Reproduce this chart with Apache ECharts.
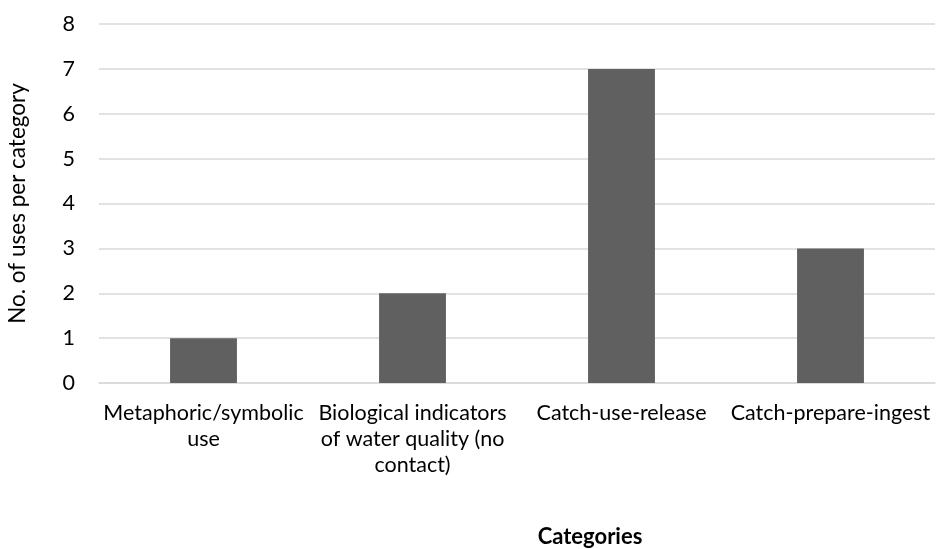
<!DOCTYPE html>
<html><head><meta charset="utf-8">
<script src="https://cdn.jsdelivr.net/npm/echarts@6/dist/echarts.min.js"></script>
<style>html,body{margin:0;padding:0;background:#fff}#c{width:937px;height:549px}</style>
</head><body><div id="c"></div>
<script>
const categories = ["Metaphoric/symbolic\nuse", "Biological indicators\nof water quality (no\ncontact)", "Catch-use-release", "Catch-prepare-ingest"];
const values = [1, 2, 7, 3];
const yTicks = [0, 1, 2, 3, 4, 5, 6, 7, 8];
const xTitle = "Categories";
const yTitle = "No. of uses per category";

const FONT = "Lato";
const chart = echarts.init(document.getElementById('c'), null, {renderer: 'canvas'});
chart.setOption({
  animation: false,
  textStyle: {fontFamily: FONT},
  title: {text: xTitle, left: 585, top: 521, textAlign: 'center',
    textStyle: {fontFamily: FONT, fontSize: 22, fontWeight: 'bold', color: '#000'}},
  grid: {left: 99, right: 2, top: 24, bottom: 166, containLabel: false, outerBoundsMode: 'none'},
  xAxis: {type: 'category', data: categories,
    axisLine: {show: true, lineStyle: {color: '#d9d9d9', width: 1.5}},
    axisTick: {show: false},
    axisLabel: {interval: 0, fontSize: 21.5, color: '#000', lineHeight: 26, margin: 17, fontFamily: FONT}
  },
  yAxis: {type: 'value', min: yTicks[0], max: yTicks[yTicks.length-1], interval: 1,
    name: yTitle, nameLocation: 'middle', nameGap: 70, nameRotate: 90,
    nameTextStyle: {fontSize: 22.5, color: '#000', fontFamily: FONT},
    axisLine: {show: false}, axisTick: {show: false},
    axisLabel: {fontSize: 21.5, color: '#000', margin: 24, fontFamily: FONT},
    splitLine: {lineStyle: {color: '#d9d9d9', width: 1.5}}
  },
  series: [{type: 'bar', data: values, barCategoryGap: '68%',
    itemStyle: {color: '#606060'}}]
});
</script></body></html>
